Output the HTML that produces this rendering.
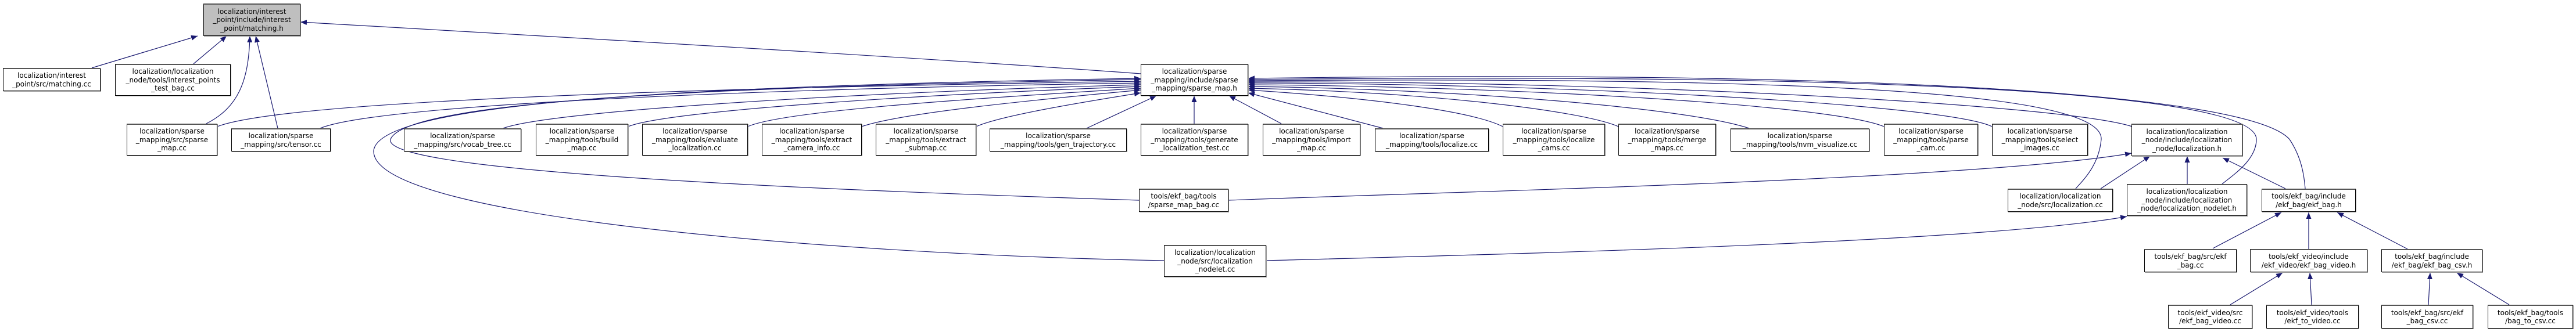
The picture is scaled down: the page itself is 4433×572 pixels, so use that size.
<!DOCTYPE html>
<html><head><meta charset="utf-8"><style>
html,body{margin:0;padding:0;background:#fff;}
#c{position:relative;width:4433px;height:572px;overflow:hidden;background:#fff;}
svg{position:absolute;left:0;top:0;}
.n{position:absolute;box-sizing:border-box;border:1px solid #000;background:#fff;display:flex;flex-direction:column;justify-content:center;align-items:center;font-family:"DejaVu Sans","Liberation Sans",sans-serif;font-size:12px;line-height:14.5px;color:#000;text-align:center;white-space:nowrap;box-shadow:1px 1px 0 #999;border-top:2px solid #555;}
.g{background:#bfbfbf;}
</style></head><body><div id="c">
<svg width="4433" height="572" viewBox="0 0 4433 572">
<defs><marker id="a" markerWidth="12" markerHeight="9" refX="11" refY="4.5" orient="auto-start-reverse" markerUnits="userSpaceOnUse"><path d="M0,0 L11,4.5 L0,9 Z" fill="#191970"/></marker></defs>
<g fill="none" stroke="#191970" stroke-width="1.2" marker-start="url(#a)">
<path d="M517,38 C900,60 1600,100 1963,127"/>
<path d="M340,62 L158,117"/>
<path d="M390,62 L333,110"/>
<path d="M430,62 C428,140 410,185 355,213"/>
<path d="M440,62 L478,221"/>
<path d="M1963,140 C1300,150 500,170 374,218"/>
<path d="M1963,143 C1300,153 650,180 551,221"/>
<path d="M1963,146 C1500,158 950,190 866,221"/>
<path d="M1963,149 C1600,162 1150,190 1081,218"/>
<path d="M1963,152 C1700,168 1350,190 1287,218"/>
<path d="M1963,155 C1760,174 1550,195 1483,218"/>
<path d="M1963,160 C1850,178 1720,200 1680,218"/>
<path d="M1990,165 L1870,221"/>
<path d="M2055,165 L2055,213"/>
<path d="M2115,165 L2205,213"/>
<path d="M2148,160 L2380,221"/>
<path d="M2148,155 C2350,168 2530,190 2586,218"/>
<path d="M2148,152 C2450,158 2720,190 2785,218"/>
<path d="M2148,149 C2500,153 2900,185 3010,221"/>
<path d="M2148,146 C2600,149 3150,180 3242,218"/>
<path d="M2148,143 C2700,144 3350,180 3428,218"/>
<path d="M2148,141 C2800,139 3550,180 3669,218"/>
<path d="M2148,139 C3000,133 3620,150 3616,240 C3612,285 3585,310 3572,325"/>
<path d="M2148,137 C3100,127 3883,150 3883,240 C3883,275 3845,300 3824,317"/>
<path d="M2148,135 C3200,120 3870,160 3940,240 C3960,270 3965,300 3967,325"/>
<path d="M1963,137 C1300,148 700,170 672,240 C655,300 1500,330 1960,345"/>
<path d="M1963,135 C1200,148 650,175 643,260 C640,380 1500,440 2003,449"/>
<path d="M3668,264 C3400,310 2500,330 2114,345"/>
<path d="M3700,269 L3615,325"/>
<path d="M3764,269 L3764,317"/>
<path d="M3825,272 L3933,325"/>
<path d="M3660,373 C3400,420 2500,440 2179,449"/>
<path d="M3926,366 L3808,428"/>
<path d="M3973,366 L3973,429"/>
<path d="M4022,366 L4143,429"/>
<path d="M3928,470 L3838,525"/>
<path d="M3975,470 L3978,525"/>
<path d="M4182,470 L4179,525"/>
<path d="M4228,470 L4318,525"/>
</g></svg>
<div class="n g" style="left:350px;top:6px;width:167px;height:56px">localization/interest<br>_point/include/interest<br>_point/matching.h</div>
<div class="n" style="left:5px;top:117px;width:168px;height:40px">localization/interest<br>_point/src/matching.cc</div>
<div class="n" style="left:198px;top:110px;width:199px;height:55px">localization/localization<br>_node/tools/interest_points<br>_test_bag.cc</div>
<div class="n" style="left:1963px;top:110px;width:185px;height:55px">localization/sparse<br>_mapping/include/sparse<br>_mapping/sparse_map.h</div>
<div class="n" style="left:218px;top:213px;width:156px;height:55px">localization/sparse<br>_mapping/src/sparse<br>_map.cc</div>
<div class="n" style="left:398px;top:221px;width:171px;height:40px">localization/sparse<br>_mapping/src/tensor.cc</div>
<div class="n" style="left:695px;top:221px;width:202px;height:40px">localization/sparse<br>_mapping/src/vocab_tree.cc</div>
<div class="n" style="left:922px;top:213px;width:159px;height:55px">localization/sparse<br>_mapping/tools/build<br>_map.cc</div>
<div class="n" style="left:1105px;top:213px;width:182px;height:55px">localization/sparse<br>_mapping/tools/evaluate<br>_localization.cc</div>
<div class="n" style="left:1311px;top:213px;width:172px;height:55px">localization/sparse<br>_mapping/tools/extract<br>_camera_info.cc</div>
<div class="n" style="left:1507px;top:213px;width:173px;height:55px">localization/sparse<br>_mapping/tools/extract<br>_submap.cc</div>
<div class="n" style="left:1703px;top:221px;width:236px;height:40px">localization/sparse<br>_mapping/tools/gen_trajectory.cc</div>
<div class="n" style="left:1963px;top:213px;width:185px;height:55px">localization/sparse<br>_mapping/tools/generate<br>_localization_test.cc</div>
<div class="n" style="left:2173px;top:213px;width:168px;height:55px">localization/sparse<br>_mapping/tools/import<br>_map.cc</div>
<div class="n" style="left:2366px;top:221px;width:196px;height:40px">localization/sparse<br>_mapping/tools/localize.cc</div>
<div class="n" style="left:2586px;top:213px;width:176px;height:55px">localization/sparse<br>_mapping/tools/localize<br>_cams.cc</div>
<div class="n" style="left:2785px;top:213px;width:168px;height:55px">localization/sparse<br>_mapping/tools/merge<br>_maps.cc</div>
<div class="n" style="left:2978px;top:221px;width:239px;height:40px">localization/sparse<br>_mapping/tools/nvm_visualize.cc</div>
<div class="n" style="left:3242px;top:213px;width:162px;height:55px">localization/sparse<br>_mapping/tools/parse<br>_cam.cc</div>
<div class="n" style="left:3428px;top:213px;width:165px;height:55px">localization/sparse<br>_mapping/tools/select<br>_images.cc</div>
<div class="n" style="left:3668px;top:213px;width:191px;height:56px">localization/localization<br>_node/include/localization<br>_node/localization.h</div>
<div class="n" style="left:1960px;top:325px;width:154px;height:40px">tools/ekf_bag/tools<br>/sparse_map_bag.cc</div>
<div class="n" style="left:3455px;top:325px;width:181px;height:40px">localization/localization<br>_node/src/localization.cc</div>
<div class="n" style="left:3660px;top:317px;width:207px;height:55px">localization/localization<br>_node/include/localization<br>_node/localization_nodelet.h</div>
<div class="n" style="left:3892px;top:325px;width:162px;height:40px">tools/ekf_bag/include<br>/ekf_bag/ekf_bag.h</div>
<div class="n" style="left:2003px;top:422px;width:176px;height:55px">localization/localization<br>_node/src/localization<br>_nodelet.cc</div>
<div class="n" style="left:3690px;top:429px;width:159px;height:40px">tools/ekf_bag/src/ekf<br>_bag.cc</div>
<div class="n" style="left:3872px;top:429px;width:202px;height:40px">tools/ekf_video/include<br>/ekf_video/ekf_bag_video.h</div>
<div class="n" style="left:4098px;top:429px;width:174px;height:40px">tools/ekf_bag/include<br>/ekf_bag/ekf_bag_csv.h</div>
<div class="n" style="left:3731px;top:525px;width:145px;height:41px">tools/ekf_video/src<br>/ekf_bag_video.cc</div>
<div class="n" style="left:3900px;top:525px;width:159px;height:41px">tools/ekf_video/tools<br>/ekf_to_video.cc</div>
<div class="n" style="left:4098px;top:525px;width:158px;height:41px">tools/ekf_bag/src/ekf<br>_bag_csv.cc</div>
<div class="n" style="left:4281px;top:525px;width:147px;height:41px">tools/ekf_bag/tools<br>/bag_to_csv.cc</div>
</div></body></html>
